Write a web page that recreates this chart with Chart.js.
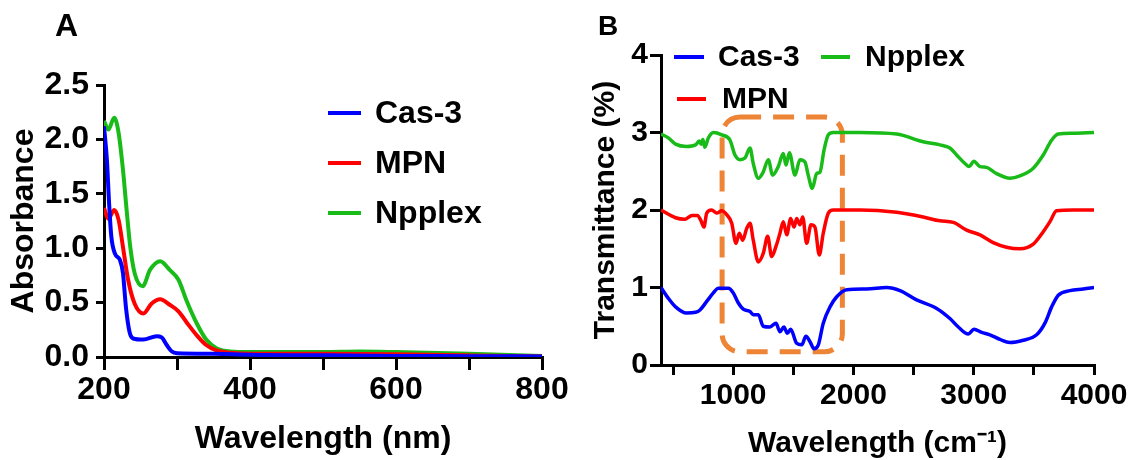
<!DOCTYPE html>
<html><head><meta charset="utf-8">
<script src="https://cdn.jsdelivr.net/npm/chart.js@4.4.0/dist/chart.umd.min.js"></script>
<style>
html,body{margin:0;padding:0;background:#fff;width:1130px;height:460px;overflow:hidden;}
#wrapA{position:absolute;left:0;top:0;width:600px;height:460px;}
#wrapB{position:absolute;left:565px;top:0;width:565px;height:460px;}
canvas{display:block;}
</style></head><body>
<div id="wrapA"><canvas id="cA" width="600" height="460"></canvas></div>
<div id="wrapB"><canvas id="cB" width="565" height="460"></canvas></div>
<script>
// ---------- Panel A : UV-vis absorbance ----------
const seriesNames = ['Cas-3', 'MPN', 'Npplex'];
const seriesColors = ['#0000FF', '#FF0000', '#19BB19'];

const uvCas3X = [200, 204, 207, 210, 215, 222, 226, 230, 235, 240, 254, 272, 279, 286, 293, 300, 350, 400, 500, 600, 700, 800];
const uvCas3Y = [2.12, 1.81, 1.41, 1.11, 0.95, 0.89, 0.77, 0.46, 0.23, 0.17, 0.16, 0.19, 0.18, 0.11, 0.05, 0.035, 0.03, 0.02, 0.015, 0.01, 0.008, 0.005];

const uvMpnX = [200, 206, 214, 220, 226, 233, 242, 254, 265, 277, 290, 302, 313, 327, 340, 354, 373, 400, 500, 600, 700, 800];
const uvMpnY = [1.37, 1.27, 1.35, 1.26, 1.01, 0.71, 0.49, 0.40, 0.49, 0.53, 0.48, 0.42, 0.32, 0.20, 0.11, 0.06, 0.04, 0.03, 0.03, 0.025, 0.015, 0.005];

const uvNpplexX = [200, 206, 214, 220, 226, 231, 236, 242, 253, 263, 277, 290, 302, 313, 327, 340, 354, 373, 400, 500, 550, 600, 700, 800];
const uvNpplexY = [2.17, 2.09, 2.20, 2.06, 1.72, 1.35, 1.01, 0.77, 0.65, 0.80, 0.88, 0.80, 0.71, 0.52, 0.31, 0.16, 0.08, 0.05, 0.045, 0.045, 0.05, 0.045, 0.03, 0.01];

const uvXTicks = [200, 300, 400, 500, 600, 700, 800];
const uvXLabels = [200, 400, 600, 800];
const uvYTicks = [0, 0.5, 1.0, 1.5, 2.0, 2.5];

// ---------- Panel B : FTIR transmittance ----------
const irCas3X = [400, 461, 521, 612, 688, 724, 780, 835, 877, 960, 1001, 1043, 1084, 1140, 1167, 1209, 1250, 1306, 1356, 1389, 1422, 1450, 1478, 1528, 1570, 1605, 1639, 1672, 1708, 1749, 1805, 1861, 1944, 2110, 2276, 2387, 2525, 2692, 2802, 2872, 2955, 3002, 3066, 3135, 3218, 3301, 3412, 3523, 3592, 3648, 3703, 3800, 3911, 4000];
const irCas3Y = [1.00, 0.86, 0.75, 0.67, 0.68, 0.71, 0.82, 0.93, 0.99, 0.99, 0.93, 0.80, 0.72, 0.69, 0.65, 0.65, 0.50, 0.49, 0.54, 0.43, 0.49, 0.41, 0.46, 0.28, 0.26, 0.37, 0.30, 0.21, 0.26, 0.54, 0.75, 0.88, 0.97, 0.98, 1.00, 0.96, 0.84, 0.73, 0.60, 0.49, 0.40, 0.46, 0.42, 0.39, 0.33, 0.29, 0.32, 0.39, 0.54, 0.75, 0.90, 0.96, 0.98, 1.00];

const irMpnX = [400, 521, 597, 658, 703, 733, 757, 780, 821, 863, 905, 946, 988, 1023, 1051, 1079, 1112, 1140, 1167, 1209, 1250, 1287, 1320, 1356, 1389, 1417, 1445, 1478, 1506, 1528, 1555, 1578, 1611, 1647, 1680, 1716, 1749, 1791, 1832, 2054, 2359, 2580, 2719, 2830, 2941, 3052, 3162, 3273, 3384, 3495, 3578, 3634, 3689, 3827, 4000];
const irMpnY = [2.00, 1.90, 1.88, 1.93, 1.93, 1.86, 1.78, 1.96, 2.00, 1.96, 1.99, 1.94, 1.83, 1.57, 1.70, 1.61, 1.76, 1.83, 1.61, 1.33, 1.44, 1.66, 1.40, 1.53, 1.70, 1.85, 1.68, 1.89, 1.78, 1.89, 1.81, 1.91, 1.57, 1.81, 1.78, 1.42, 1.70, 1.96, 2.00, 2.00, 1.97, 1.91, 1.86, 1.84, 1.74, 1.68, 1.58, 1.52, 1.50, 1.56, 1.72, 1.85, 1.99, 2.00, 2.00];

const irNpplexX = [400, 461, 521, 612, 688, 718, 733, 748, 764, 794, 835, 905, 974, 1015, 1057, 1098, 1140, 1167, 1209, 1250, 1292, 1328, 1375, 1417, 1439, 1467, 1514, 1555, 1597, 1624, 1658, 1694, 1722, 1755, 1791, 1832, 2054, 2359, 2580, 2719, 2802, 2858, 2927, 2963, 3000, 3052, 3107, 3190, 3301, 3384, 3495, 3578, 3647, 3703, 3827, 4000];
const irNpplexY = [2.98, 2.93, 2.85, 2.82, 2.84, 2.89, 2.85, 2.91, 2.81, 2.93, 3.00, 2.97, 2.90, 2.71, 2.65, 2.67, 2.80, 2.60, 2.41, 2.49, 2.65, 2.45, 2.56, 2.73, 2.58, 2.74, 2.45, 2.65, 2.62, 2.45, 2.28, 2.47, 2.49, 2.77, 2.97, 3.00, 3.00, 2.98, 2.88, 2.84, 2.80, 2.71, 2.60, 2.56, 2.63, 2.56, 2.55, 2.47, 2.41, 2.44, 2.54, 2.71, 2.90, 2.98, 2.99, 3.00];

const irXTicks = [500, 1000, 1500, 2000, 2500, 3000, 3500, 4000];
const irXLabels = [1000, 2000, 3000, 4000];
const irYTicks = [0, 1, 2, 3, 4];
// highlighted fingerprint region (wavenumber / transmittance extents)
const irBoxX = [908, 1908];
const irBoxY = [0.17, 3.2];

// ---------- helpers ----------
const FAM = '"Liberation Sans", Arial, Helvetica, sans-serif';
Chart.defaults.color = '#000';
Chart.defaults.font.family = FAM;

function pts(xs, ys) { return xs.map((x, i) => ({x: x, y: ys[i]})); }
function ds(i, xs, ys, w) {
  return {label: seriesNames[i], data: pts(xs, ys), borderColor: seriesColors[i],
    backgroundColor: seriesColors[i], borderWidth: w, pointRadius: 0, fill: false,
    tension: 0.35, cubicInterpolationMode: 'monotone'};
}

const overlay = {
  id: 'overlay',
  beforeDatasetsDraw(chart, args, o) {
    if (!o.box) return;
    const xs = chart.scales.x, ys = chart.scales.y, ctx = chart.ctx;
    const l = xs.getPixelForValue(o.box.x[0]), r = xs.getPixelForValue(o.box.x[1]);
    const t = ys.getPixelForValue(o.box.y[1]), b = ys.getPixelForValue(o.box.y[0]);
    ctx.save();
    ctx.strokeStyle = '#EE8436';
    ctx.lineWidth = 5;
    ctx.setLineDash([21, 12]);
    ctx.beginPath();
    ctx.roundRect(l, t, r - l, b - t, 18);
    ctx.stroke();
    ctx.restore();
  },
  afterDraw(chart, args, o) {
    const ctx = chart.ctx;
    ctx.save();
    ctx.fillStyle = '#000';
    ctx.font = 'bold ' + o.letterSize + 'px ' + FAM;
    ctx.textBaseline = 'alphabetic';
    ctx.textAlign = 'left';
    ctx.fillText(o.letter, o.letterX, o.letterY);
    ctx.font = 'bold ' + o.legendSize + 'px ' + FAM;
    ctx.textBaseline = 'middle';
    o.items.forEach(it => {
      const d = chart.data.datasets[it.ds];
      ctx.strokeStyle = d.borderColor;
      ctx.lineWidth = 4;
      ctx.beginPath(); ctx.moveTo(it.x1, it.y); ctx.lineTo(it.x2, it.y); ctx.stroke();
      ctx.fillText(d.label, it.tx, it.y + 1);
    });
    ctx.restore();
  }
};

function axisCommon(size, tickLen, pad) {
  return {
    grid: {display: true, drawOnChartArea: false, drawTicks: true, tickLength: tickLen, lineWidth: 3, color: '#000'},
    border: {display: true, width: 3, color: '#000'},
    ticks: {font: {size: size, weight: 'bold', family: FAM}, color: '#000', padding: pad, autoSkip: false, maxRotation: 0, minRotation: 0}
  };
}
function noPad(s) { s.paddingLeft = 0; s.paddingRight = 0; s.paddingTop = 0; s.paddingBottom = 0; }

// ---------- Chart A ----------
const axA_x = axisCommon(32, 13, 1);
const axA_y = axisCommon(32, 8, 7);
new Chart(document.getElementById('cA'), {
  type: 'line',
  data: {datasets: [
    ds(0, uvCas3X, uvCas3Y, 4), ds(1, uvMpnX, uvMpnY, 4), ds(2, uvNpplexX, uvNpplexY, 4)
  ]},
  options: {
    responsive: false, animation: false, devicePixelRatio: 1,
    layout: {padding: {left: 0, right: 58, top: 85, bottom: 0}},
    plugins: {legend: {display: false}, tooltip: {enabled: false},
      overlay: {letter: 'A', letterSize: 32, letterX: 55, letterY: 36, legendSize: 32,
        items: [{ds: 0, x1: 328, x2: 361, tx: 375, y: 113}, {ds: 1, x1: 328, x2: 361, tx: 375, y: 163}, {ds: 2, x1: 328, x2: 361, tx: 375, y: 213}]}},
    scales: {
      x: Object.assign(axA_x, {type: 'linear', min: 200, max: 800,
        afterBuildTicks: s => { s.ticks = uvXTicks.map(v => ({value: v})); },
        afterFit: s => { s.height = 103; noPad(s); },
        ticks: Object.assign(axA_x.ticks, {callback: v => uvXLabels.includes(v) ? String(v) : ''}),
        title: {display: true, text: 'Wavelength (nm)', font: {size: 32, weight: 'bold', family: FAM}, color: '#000', padding: {top: 0, bottom: 2}}}),
      y: Object.assign(axA_y, {type: 'linear', min: 0, max: 2.5,
        afterBuildTicks: s => { s.ticks = uvYTicks.map(v => ({value: v})); },
        afterFit: s => { s.width = 104; noPad(s); },
        ticks: Object.assign(axA_y.ticks, {callback: v => Number(v).toFixed(1)}),
        title: {display: true, text: 'Absorbance', font: {size: 32, weight: 'bold', family: FAM}, color: '#000', padding: {top: 5, bottom: 0}}})
    }
  },
  plugins: [overlay]
});

// ---------- Chart B ----------
const axB_x = axisCommon(30, 10, 3);
const axB_y = axisCommon(30, 11, 2);
new Chart(document.getElementById('cB'), {
  type: 'line',
  data: {datasets: [
    ds(0, irCas3X, irCas3Y, 3.5), ds(1, irMpnX, irMpnY, 3.5), ds(2, irNpplexX, irNpplexY, 3.5)
  ]},
  options: {
    responsive: false, animation: false, devicePixelRatio: 1,
    layout: {padding: {left: 0, right: 36, top: 55, bottom: 0}},
    plugins: {legend: {display: false}, tooltip: {enabled: false},
      overlay: {letter: 'B', letterSize: 28, letterX: 33, letterY: 35, legendSize: 30,
        box: {x: irBoxX, y: irBoxY},
        items: [{ds: 0, x1: 109, x2: 139, tx: 153, y: 57}, {ds: 2, x1: 256, x2: 285, tx: 300, y: 57}, {ds: 1, x1: 112, x2: 141, tx: 157, y: 99}]}},
    scales: {
      x: Object.assign(axB_x, {type: 'linear', min: 400, max: 4000,
        afterBuildTicks: s => { s.ticks = irXTicks.map(v => ({value: v})); },
        afterFit: s => { s.height = 95; noPad(s); },
        ticks: Object.assign(axB_x.ticks, {callback: v => irXLabels.includes(v) ? String(v) : ''}),
        title: {display: true, text: 'Wavelength (cm\u207B\u00B9)', font: {size: 30, weight: 'bold', family: FAM}, color: '#000', padding: {top: 0, bottom: -2}}}),
      y: Object.assign(axB_y, {type: 'linear', min: 0, max: 4,
        afterBuildTicks: s => { s.ticks = irYTicks.map(v => ({value: v})); },
        afterFit: s => { s.width = 96; noPad(s); },
        ticks: Object.assign(axB_y.ticks, {callback: v => String(v)}),
        title: {display: true, text: 'Transmittance (%)', font: {size: 30, weight: 'bold', family: FAM}, color: '#000', padding: {top: 23, bottom: 0}}})
    }
  },
  plugins: [overlay]
});
</script>
</body></html>
